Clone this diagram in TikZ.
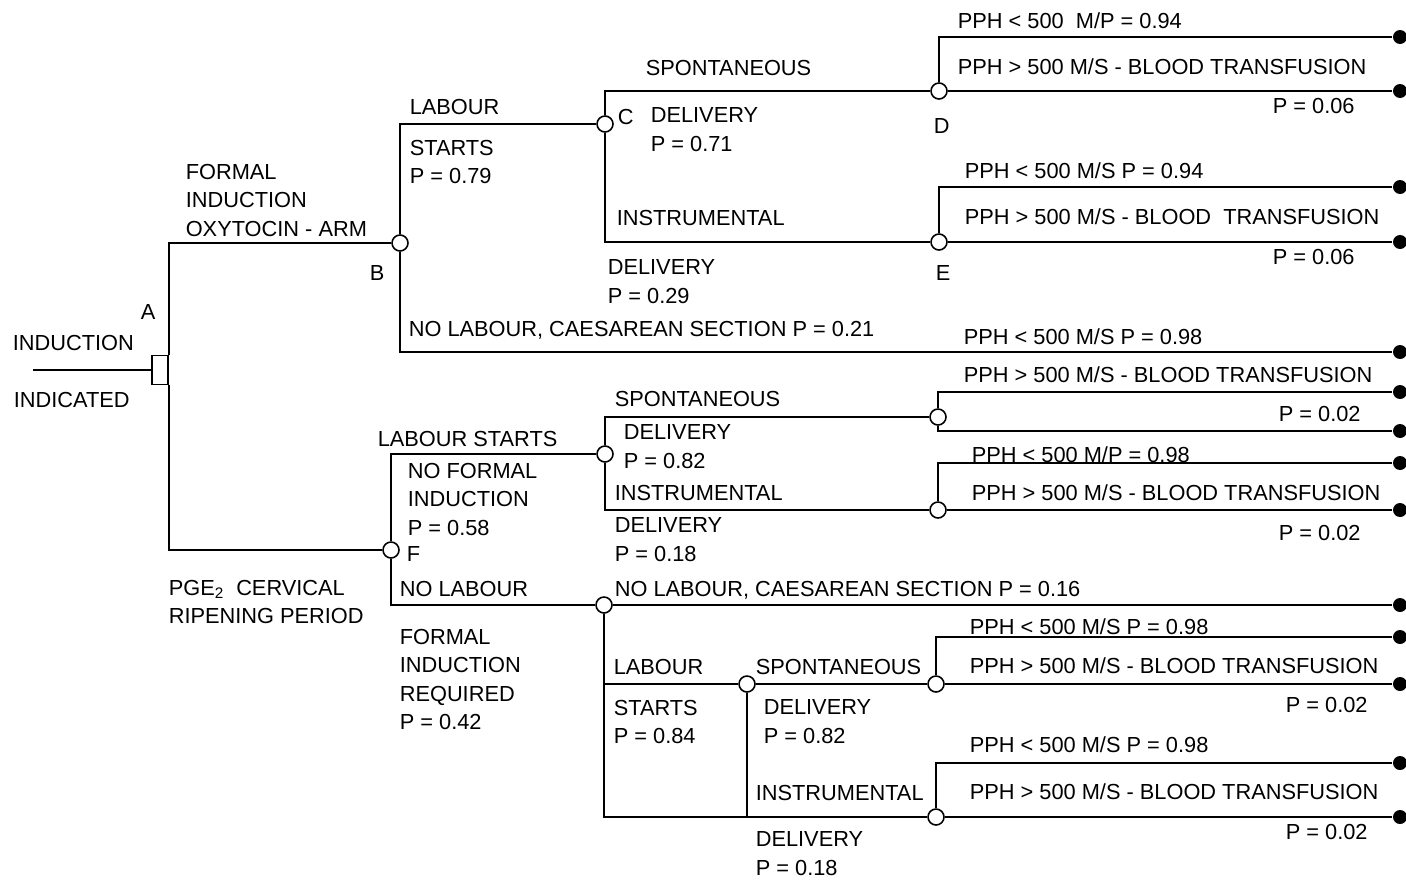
\documentclass[tikz,border=0pt]{standalone}
\usepackage{fontspec}
\setmainfont{Liberation Sans}
\usepackage{tikz}
\usetikzlibrary{
	positioning     % per posizionare i nodi
}

\begin{document}
\begin{tikzpicture}[
	x=0.02cm, y=-0.02cm,
	line width=0.9pt,
	chance/.style={circle, draw, fill=white, inner sep=0pt, minimum size=0.32cm},
	decision/.style={rectangle, draw, fill=white, inner sep=0pt, minimum width=0.32cm, minimum height=0.58cm},
	outcome/.style={circle, fill=black, inner sep=0pt, minimum size=0.28cm},
	label_text/.style={anchor=west, inner sep=0pt, text height=8.9pt, text depth=0pt, font=\fontsize{12.4}{16.3}\selectfont},
	label_stack/.style={anchor=north west, inner sep=0pt, align=left, font=\fontsize{12.4}{16.3}\selectfont}
	]
	
	\useasboundingbox (0,0) rectangle (1406,879);
	
	% --- Radice (decisione A) ---
	\coordinate (root) at (33,370);
	\node[decision] (A) at (160,370) {};
	\node[label_text] (lInd) at (12,343) {INDUCTION};
	\node[label_text] (lIndic) at (13,400) {INDICATED};
	\node[label_text] (lA) at (140,312) {A};
	
	% --- Nodi di probabilita' ---
	\node[chance] (B) at (400,243) {};
	\node[chance] (C) at (605,124) {};
	\node[chance] (D) at (939,91) {};
	\node[chance] (E) at (939,242) {};
	\node[chance] (F) at (391,550) {};
	\node[chance] (G) at (605,454) {};
	\node[chance] (H) at (604,605) {};
	\node[chance] (nI) at (747,684) {};
	\node[chance] (nJ) at (938,417) {};
	\node[chance] (nK) at (938,510) {};
	\node[chance] (nL) at (936,684) {};
	\node[chance] (nM) at (936,817) {};
	
	% --- Esiti finali ---
	\node[outcome] (end1) at (1400,37) {};
	\node[outcome] (end2) at (1400,91) {};
	\node[outcome] (end3) at (1400,187) {};
	\node[outcome] (end4) at (1400,242) {};
	\node[outcome] (end5) at (1400,352) {};
	\node[outcome] (end6) at (1400,392) {};
	\node[outcome] (end7) at (1400,431) {};
	\node[outcome] (end8) at (1400,463) {};
	\node[outcome] (end9) at (1400,510) {};
	\node[outcome] (end10) at (1400,605) {};
	\node[outcome] (end11) at (1400,637) {};
	\node[outcome] (end12) at (1400,684) {};
	\node[outcome] (end13) at (1400,763) {};
	\node[outcome] (end14) at (1400,817) {};
	
	% --- Rami ---
	\draw (root) -- (A);
	\draw (A.north east) |- (B);
	\draw (A.south east) |- (F);
	\draw (B) |- (C);
	\draw (B) |- (end5);
	\draw (C) |- (D);
	\draw (C) |- (E);
	\draw (D) |- (end1);
	\draw (D) -- (end2);
	\draw (E) |- (end3);
	\draw (E) -- (end4);
	\draw (F) |- (G);
	\draw (F) |- (H);
	\draw (G) |- (nJ);
	\draw (G) |- (nK);
	\draw (nJ) |- (end6);
	\draw (nJ) |- (end7);
	\draw (nK) |- (end8);
	\draw (nK) -- (end9);
	\draw (H) -- (end10);
	\draw (H) |- (nI);
	\draw (H) |- (nM);
	\draw (nI) -- (nL);
	\draw (nI) |- (nM);
	\draw (nL) |- (end11);
	\draw (nL) -- (end12);
	\draw (nM) |- (end13);
	\draw (nM) -- (end14);
	
	% ==================================================================
	% --- Braccio superiore: induzione formale ---
	% ==================================================================
	\node[label_stack] (lFormal) at (185,163) {FORMAL\\INDUCTION\\OXYTOCIN - ARM};
	\node[label_text] (lB) at (369,273) {B};
	\node[label_text] (lLab1) at (409,107) {LABOUR};
	\node[label_stack] (lStart1) at (409,139) {STARTS\\P = 0.79};
	\node[label_text] (lNoLab1) at (408,329) {NO LABOUR, CAESAREAN SECTION P = 0.21};
	\node[label_text] (lC) at (617,117) {C};
	\node[label_text] (lSpo1) at (645,68) {SPONTANEOUS};
	\node[label_stack] (lDel1) at (650,107) {DELIVERY\\P = 0.71};
	\node[label_text] (lIns1) at (616,218) {INSTRUMENTAL};
	\node[label_stack] (lDel2) at (607,259) {DELIVERY\\P = 0.29};
	\node[label_text] (lD) at (933,126) {D};
	\node[label_text] (lE) at (935,273) {E};
	
	% esiti D, E e cesareo
	\node[label_text] (lD1) at (957,21) {PPH < 500\ \ M/P = 0.94};
	\node[label_text] (lD2) at (957,67) {PPH > 500 M/S - BLOOD TRANSFUSION};
	\node[label_text] (lD3) at (1272,106) {P = 0.06};
	\node[label_text] (lE1) at (964,171) {PPH < 500 M/S P = 0.94};
	\node[label_text] (lE2) at (964,217) {PPH > 500 M/S - BLOOD\ \ TRANSFUSION};
	\node[label_text] (lE3) at (1272,257) {P = 0.06};
	\node[label_text] (lCs1) at (963,337) {PPH < 500 M/S P = 0.98};
	
	% ==================================================================
	% --- Braccio inferiore: PGE2 ---
	% ==================================================================
	\node[label_stack] (lPge) at (168,579) {PGE\textsubscript{2}\ \ CERVICAL\\RIPENING PERIOD};
	\node[label_text] (lLab2) at (377,439) {LABOUR STARTS};
	\node[label_stack] (lNoForm) at (407,462) {NO FORMAL\\INDUCTION\\P = 0.58};
	\node[label_text] (lF) at (406,554) {F};
	\node[label_text] (lNoLab2) at (399,589) {NO LABOUR};
	\node[label_stack] (lForm2) at (399,628) {FORMAL\\INDUCTION\\REQUIRED\\P = 0.42};
	\node[label_text] (lSpo2) at (614,399) {SPONTANEOUS};
	\node[label_stack] (lDel3) at (623,424) {DELIVERY\\P = 0.82};
	\node[label_text] (lIns2) at (614,493) {INSTRUMENTAL};
	\node[label_stack] (lDel4) at (614,517) {DELIVERY\\P = 0.18};
	\node[label_text] (lNoLab3) at (614,589) {NO LABOUR, CAESAREAN SECTION P = 0.16};
	\node[label_text] (lLab3) at (613,667) {LABOUR};
	\node[label_stack] (lStart3) at (613,699) {STARTS\\P = 0.84};
	\node[label_text] (lSpo3) at (755,667) {SPONTANEOUS};
	\node[label_stack] (lDel5) at (763,699) {DELIVERY\\P = 0.82};
	\node[label_text] (lIns3) at (755,793) {INSTRUMENTAL};
	\node[label_stack] (lDel6) at (755,831) {DELIVERY\\P = 0.18};
	
	% esiti
	\node[label_text] (lJ1) at (963,375) {PPH > 500 M/S - BLOOD TRANSFUSION};
	\node[label_text] (lJ2) at (1278,414) {P = 0.02};
	\node[label_text] (lK1) at (971,455) {PPH < 500 M/P = 0.98};
	\node[label_text] (lK2) at (971,493) {PPH > 500 M/S - BLOOD TRANSFUSION};
	\node[label_text] (lK3) at (1278,533) {P = 0.02};
	\node[label_text] (lL1) at (969,627) {PPH < 500 M/S P = 0.98};
	\node[label_text] (lL2) at (969,666) {PPH > 500 M/S - BLOOD TRANSFUSION};
	\node[label_text] (lL3) at (1285,705) {P = 0.02};
	\node[label_text] (lM1) at (969,745) {PPH < 500 M/S P = 0.98};
	\node[label_text] (lM2) at (969,792) {PPH > 500 M/S - BLOOD TRANSFUSION};
	\node[label_text] (lM3) at (1285,832) {P = 0.02};
	
\end{tikzpicture}
\end{document}
